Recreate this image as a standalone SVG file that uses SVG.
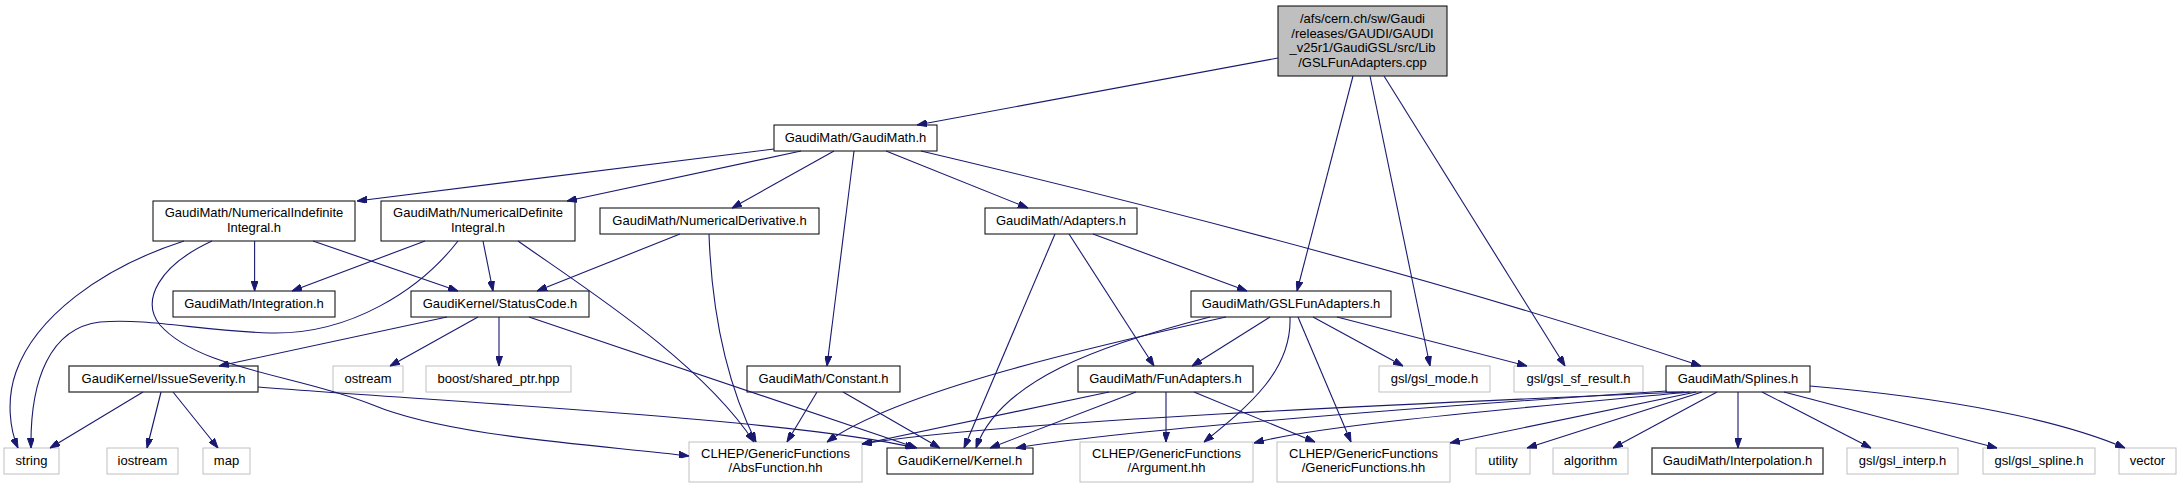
<svg xmlns="http://www.w3.org/2000/svg" width="2183" height="488" viewBox="0 0 2183 488">
<style>
.bg{fill:#fff}
.nd rect{fill:#fff;stroke:#000;stroke-width:1}
.nd.dk rect{stroke:#404040;stroke-width:1.4}
.nd.ext rect{fill:#fff;stroke:#bfbfbf;stroke-width:1}
.nd.root rect{fill:#bfbfbf;stroke:#000;stroke-width:1}
.nd text{font-family:"Liberation Sans",Arial,Helvetica,sans-serif;font-size:13px;fill:#000;text-anchor:middle}
.e path{fill:none;stroke:#191970;stroke-width:1.1;marker-end:url(#a)}
</style>
<defs>
<marker id="a" markerWidth="10" markerHeight="7" refX="10" refY="3.5" orient="auto" markerUnits="userSpaceOnUse"><path d="M0,0 L10,3.5 L0,7 z" fill="#191970" stroke="#191970" stroke-width="1"/></marker>
</defs>
<rect class="bg" x="0" y="0" width="2183" height="488"/>
<g id="nodes">
<g id="n0" class="nd root"><rect x="1278" y="6" width="169" height="70"/><text x="1362.5" y="23">/afs/cern.ch/sw/Gaudi</text><text x="1362.5" y="37.5">/releases/GAUDI/GAUDI</text><text x="1362.5" y="52">_v25r1/GaudiGSL/src/Lib</text><text x="1362.5" y="66.5">/GSLFunAdapters.cpp</text></g>
<g id="n1" class="nd"><rect x="774" y="125" width="163" height="26"/><text x="855.5" y="142">GaudiMath/GaudiMath.h</text></g>
<g id="n2" class="nd"><rect x="153" y="201" width="202" height="40"/><text x="254" y="217">GaudiMath/NumericalIndefinite</text><text x="254" y="232">Integral.h</text></g>
<g id="n3" class="nd"><rect x="381" y="201" width="194" height="40"/><text x="478" y="217">GaudiMath/NumericalDefinite</text><text x="478" y="232">Integral.h</text></g>
<g id="n4" class="nd"><rect x="600" y="208" width="219" height="26"/><text x="709.5" y="225">GaudiMath/NumericalDerivative.h</text></g>
<g id="n5" class="nd"><rect x="985" y="208" width="152" height="26"/><text x="1061" y="225">GaudiMath/Adapters.h</text></g>
<g id="n6" class="nd"><rect x="747" y="366" width="153" height="26"/><text x="823.5" y="383">GaudiMath/Constant.h</text></g>
<g id="n7" class="nd"><rect x="1666" y="366" width="144" height="26"/><text x="1738" y="383">GaudiMath/Splines.h</text></g>
<g id="n8" class="nd"><rect x="173" y="291" width="162" height="26"/><text x="254" y="308">GaudiMath/Integration.h</text></g>
<g id="n9" class="nd"><rect x="411" y="291" width="178" height="26"/><text x="500" y="308">GaudiKernel/StatusCode.h</text></g>
<g id="n10" class="nd"><rect x="1191" y="291" width="200" height="26"/><text x="1291" y="308">GaudiMath/GSLFunAdapters.h</text></g>
<g id="n11" class="nd dk"><rect x="69" y="366" width="189" height="26"/><text x="163.5" y="383">GaudiKernel/IssueSeverity.h</text></g>
<g id="n12" class="nd ext"><rect x="333" y="366" width="70" height="26"/><text x="368" y="383">ostream</text></g>
<g id="n13" class="nd ext"><rect x="426" y="366" width="145" height="26"/><text x="498.5" y="383">boost/shared_ptr.hpp</text></g>
<g id="n14" class="nd ext"><rect x="4" y="448" width="55" height="26"/><text x="31.5" y="465">string</text></g>
<g id="n15" class="nd ext"><rect x="107" y="448" width="71" height="26"/><text x="142.5" y="465">iostream</text></g>
<g id="n16" class="nd ext"><rect x="203" y="448" width="47" height="26"/><text x="226.5" y="465">map</text></g>
<g id="n17" class="nd ext"><rect x="689" y="442" width="173" height="40"/><text x="775.5" y="458">CLHEP/GenericFunctions</text><text x="775.5" y="472">/AbsFunction.hh</text></g>
<g id="n18" class="nd"><rect x="887" y="448" width="146" height="26"/><text x="960" y="465">GaudiKernel/Kernel.h</text></g>
<g id="n19" class="nd dk"><rect x="1078" y="366" width="175" height="26"/><text x="1165.5" y="383">GaudiMath/FunAdapters.h</text></g>
<g id="n20" class="nd ext"><rect x="1080" y="442" width="173" height="40"/><text x="1166.5" y="458">CLHEP/GenericFunctions</text><text x="1166.5" y="472">/Argument.hh</text></g>
<g id="n21" class="nd ext"><rect x="1277" y="442" width="173" height="40"/><text x="1363.5" y="458">CLHEP/GenericFunctions</text><text x="1363.5" y="472">/GenericFunctions.hh</text></g>
<g id="n22" class="nd ext"><rect x="1379" y="366" width="111" height="26"/><text x="1434.5" y="383">gsl/gsl_mode.h</text></g>
<g id="n23" class="nd ext"><rect x="1514" y="366" width="129" height="26"/><text x="1578.5" y="383">gsl/gsl_sf_result.h</text></g>
<g id="n24" class="nd ext"><rect x="1476" y="448" width="54" height="26"/><text x="1503" y="465">utility</text></g>
<g id="n25" class="nd ext"><rect x="1553" y="448" width="75" height="26"/><text x="1590.5" y="465">algorithm</text></g>
<g id="n26" class="nd dk"><rect x="1652" y="448" width="171" height="26"/><text x="1737.5" y="465">GaudiMath/Interpolation.h</text></g>
<g id="n27" class="nd ext"><rect x="1847" y="448" width="111" height="26"/><text x="1902.5" y="465">gsl/gsl_interp.h</text></g>
<g id="n28" class="nd ext"><rect x="1983" y="448" width="112" height="26"/><text x="2039" y="465">gsl/gsl_spline.h</text></g>
<g id="n29" class="nd ext"><rect x="2119" y="448" width="57" height="26"/><text x="2147.5" y="465">vector</text></g>
</g>
<g id="edges" class="e">
<path d="M1278,58 L917,125"/>
<path d="M1353,76 L1297,291"/>
<path d="M1370,76 L1430,366"/>
<path d="M1384,76 L1565,366"/>
<path d="M774,149 L357,201"/>
<path d="M801,151 L567,201"/>
<path d="M834,151 L732,208"/>
<path d="M854,151 L827,366"/>
<path d="M886,151 L1028,208"/>
<path d="M921,151 C1150,205 1450,282 1701,366"/>
<path d="M1093,234 L1247,291"/>
<path d="M1069,234 L1154,366"/>
<path d="M1055,234 L964,448"/>
<path d="M254.6,241 L254.6,291"/>
<path d="M313,241 L458,291"/>
<path d="M184,241 C100,268 35,318 16,372 C6,400 10,430 18,448"/>
<path d="M212,241 C160,265 140,300 160,325 C200,370 300,375 373,405 C450,437 600,445 689,456"/>
<path d="M425,241 L292,291"/>
<path d="M458,241 C420,290 350,335 270,333 C200,331 150,318 100,322 C50,328 30,380 31,448"/>
<path d="M483,241 L493,291"/>
<path d="M518,241 C580,285 700,360 754,442"/>
<path d="M680,234 L537,291"/>
<path d="M709,234 C712,320 730,390 756,442"/>
<path d="M447,317 L219,366"/>
<path d="M478,317 L390,366"/>
<path d="M499,317 L499,366"/>
<path d="M529,317 L917,448"/>
<path d="M143,392 L50,448"/>
<path d="M161,392 L147,448"/>
<path d="M173,392 L218,448"/>
<path d="M258,387 C450,402 800,420 915,448"/>
<path d="M817,392 L787,442"/>
<path d="M843,392 L940,448"/>
<path d="M1109,392 L862,444"/>
<path d="M1136,392 L990,448"/>
<path d="M1166,392 L1166,442"/>
<path d="M1194,392 L1315,442"/>
<path d="M1226,317 C1100,345 900,390 827,442"/>
<path d="M1210,317 C1100,345 1000,380 976,448"/>
<path d="M1270,317 L1192,366"/>
<path d="M1290,317 C1292,370 1250,405 1204,442"/>
<path d="M1298,317 L1351,442"/>
<path d="M1313,317 L1403,366"/>
<path d="M1337,317 L1527,366"/>
<path d="M1684,392 C1500,400 1000,420 862,444"/>
<path d="M1667,391 C1450,405 1120,430 1016,448"/>
<path d="M1690,392 C1500,410 1320,425 1254,443"/>
<path d="M1696,392 L1450,443"/>
<path d="M1702,392 L1527,448"/>
<path d="M1717,392 L1613,448"/>
<path d="M1738,392 L1738,448"/>
<path d="M1762,392 L1871,448"/>
<path d="M1784,392 L1997,448"/>
<path d="M1810,386 C1950,398 2060,420 2125,448"/>
</g>
</svg>
